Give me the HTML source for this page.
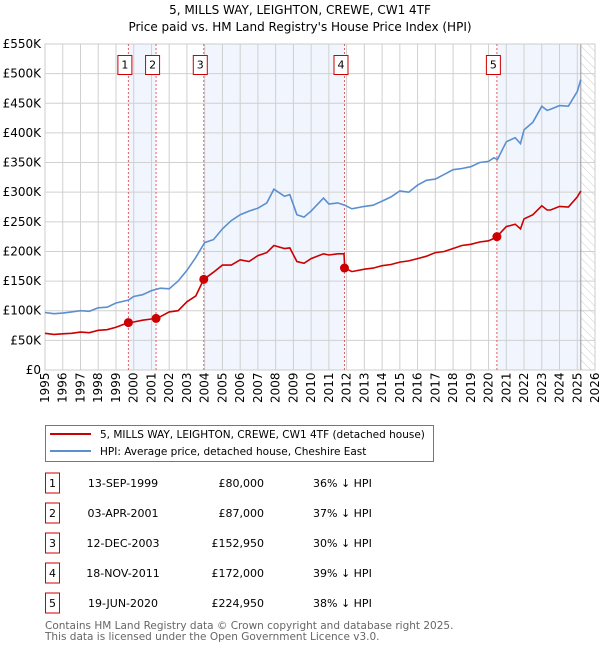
<!DOCTYPE html>
<html><head><meta charset="utf-8"><style>
body{margin:0;background:#fff;font-family:"DejaVu Sans","Liberation Sans",sans-serif;}
svg text{font-family:"DejaVu Sans","Liberation Sans",sans-serif;}
</style></head><body>
<svg id="chart" width="600" height="650" viewBox="0 0 600 650">
<defs><pattern id="hatch" width="6" height="6" patternUnits="userSpaceOnUse" patternTransform="rotate(-45)"><line x1="0" y1="0" x2="0" y2="6" stroke="#ccc" stroke-width="1"/></pattern></defs>
<text x="300" y="14" text-anchor="middle" font-size="12">5, MILLS WAY, LEIGHTON, CREWE, CW1 4TF</text>
<text x="300" y="31" text-anchor="middle" font-size="12">Price paid vs. HM Land Registry's House Price Index (HPI)</text>
<g id="plot"></g>
<g>
<rect x="45.5" y="425.5" width="388" height="36" fill="#fff" stroke="#777"/>
<line x1="50" y1="434" x2="91" y2="434" stroke="#cc0000" stroke-width="2"/>
<text x="100" y="438" font-size="10.5">5, MILLS WAY, LEIGHTON, CREWE, CW1 4TF (detached house)</text>
<line x1="50" y1="451" x2="91" y2="451" stroke="#5b8fd0" stroke-width="2"/>
<text x="100" y="455" font-size="10.5">HPI: Average price, detached house, Cheshire East</text>
</g>
<g id="table"></g>
<text x="45" y="629" font-size="10.5" fill="#666">Contains HM Land Registry data © Crown copyright and database right 2025.</text>
<text x="45" y="640" font-size="10.5" fill="#666">This data is licensed under the Open Government Licence v3.0.</text>
</svg>
<script>
const yTicks=[0,50,100,150,200,250,300,350,400,450,500,550];
const xYears=[1995,1996,1997,1998,1999,2000,2001,2002,2003,2004,2005,2006,2007,2008,2009,2010,2011,2012,2013,2014,2015,2016,2017,2018,2019,2020,2021,2022,2023,2024,2025,2026];
const hpiT=[1995,1995.5,1996,1996.5,1997,1997.5,1998,1998.5,1999,1999.7,2000,2000.5,2001,2001.5,2002,2002.5,2003,2003.5,2004,2004.5,2005,2005.5,2006,2006.5,2007,2007.5,2007.9,2008.5,2008.8,2009.2,2009.6,2010,2010.7,2011,2011.5,2011.9,2012.3,2013,2013.5,2014,2014.5,2015,2015.5,2016,2016.5,2017,2017.5,2018,2018.5,2019,2019.5,2020,2020.3,2020.5,2021,2021.5,2021.8,2022,2022.5,2023,2023.3,2023.5,2024,2024.5,2025,2025.2];
const hpiV=[97,95,96,98,100,99,105,106,113,118,124,127,134,138,137,150,168,190,215,220,238,252,262,268,273,282,305,293,296,262,258,268,290,280,282,278,272,276,278,285,292,302,300,312,320,322,330,338,340,343,350,352,358,355,385,392,382,405,418,445,438,440,446,445,470,490];
const redT=[1995,1995.5,1996,1996.5,1997,1997.5,1998,1998.5,1999,1999.7,2000,2000.5,2001,2001.25,2001.5,2002,2002.5,2003,2003.5,2003.95,2004.5,2005,2005.5,2006,2006.5,2007,2007.5,2007.9,2008.5,2008.8,2009.2,2009.6,2010,2010.7,2011,2011.5,2011.85,2011.9,2012.3,2013,2013.5,2014,2014.5,2015,2015.5,2016,2016.5,2017,2017.5,2018,2018.5,2019,2019.5,2020,2020.3,2020.47,2021,2021.5,2021.8,2022,2022.5,2023,2023.3,2023.5,2024,2024.5,2025,2025.2];
const redV=[62,60,61,62,64,63,67,68,72,80,81,84,86,87,90,98,100,115,125,153,165,177,177,186,183,193,198,210,205,206,183,180,188,196,194,196,196,172,166,170,172,176,178,182,184,188,192,198,200,205,210,212,216,218,222,225,242,246,238,255,262,277,270,270,276,275,292,302];
const saleT=[1999.7,2001.26,2003.95,2011.88,2020.47];
const saleV=[80,87,152.95,172,224.95];
const saleLabels=["1","2","3","4","5"];
const saleDates=["13-SEP-1999","03-APR-2001","12-DEC-2003","18-NOV-2011","19-JUN-2020"];
const salePrices=["£80,000","£87,000","£152,950","£172,000","£224,950"];
const salePct=["36% ↓ HPI","37% ↓ HPI","30% ↓ HPI","39% ↓ HPI","38% ↓ HPI"];
const dataEnd=2025.2;

const X0=45,X1=595,Y0=370,Y1=44;
const xs=t=>X0+(t-1995)/(2026-1995)*(X1-X0);
const ys=v=>Y0-v/550*(Y0-Y1);
const NS="http://www.w3.org/2000/svg";
const plot=document.getElementById('plot');
function mk(tag,attrs,parent){const e=document.createElementNS(NS,tag);for(const k in attrs)e.setAttribute(k,attrs[k]);(parent||plot).appendChild(e);return e;}
mk('rect',{x:X0,y:Y1,width:X1-X0,height:Y0-Y1,fill:'#fff'});
[[0,1],[2,3]].forEach(([a,b])=>{const r=mk('rect',{x:xs(saleT[a]),y:Y1,width:xs(saleT[b])-xs(saleT[a]),height:Y0-Y1,fill:'#f1f5fd'});

});
const b5=mk('rect',{x:xs(saleT[4]),y:Y1,width:xs(dataEnd)-xs(saleT[4]),height:Y0-Y1,fill:'#f1f5fd'});


const h=mk('rect',{x:xs(dataEnd),y:Y1,width:X1-xs(dataEnd),height:Y0-Y1,fill:'url(#hatch)'});


xYears.forEach(y=>{mk('line',{x1:xs(y),x2:xs(y),y1:Y1,y2:Y0,stroke:'#d0d0d0','stroke-width':1});
const t=mk('text',{transform:`translate(${xs(y)+4},${Y0+33}) rotate(-90)`,'font-size':12});t.textContent=y;

});
yTicks.forEach(v=>{mk('line',{x1:X0,x2:X1,y1:ys(v),y2:ys(v),stroke:'#d0d0d0','stroke-width':1});
const t=mk('text',{x:X0-4,y:ys(v)+4,'text-anchor':'end','font-size':12});t.textContent=v===0?'£0':'£'+v+'K';

});
mk('line',{x1:xs(dataEnd),x2:xs(dataEnd),y1:Y1,y2:Y0,stroke:'#999','stroke-width':1});
mk('rect',{x:X0,y:Y1,width:X1-X0,height:Y0-Y1,fill:'none',stroke:'#ccc'});
saleT.forEach((t,i)=>{const l=mk('line',{x1:xs(t),x2:xs(t),y1:Y1,y2:Y0,stroke:'#e06060','stroke-dasharray':'2,2','stroke-width':1});


const bx=mk('rect',{x:xs(t)-10.5,y:55.5,width:14,height:19,fill:'#fff',stroke:'#cc0000'});


const tx=mk('text',{x:xs(t)-3.5,y:68.5,'text-anchor':'middle','font-size':11});tx.textContent=saleLabels[i];});
const pth=(T,V)=>T.map((t,i)=>(i?'L':'M')+xs(t).toFixed(1)+','+ys(V[i]).toFixed(1)).join('');
const hp=mk('path',{d:pth(hpiT,hpiV),fill:'none',stroke:'#5b8fd0','stroke-width':1.6});


const rp=mk('path',{d:pth(redT,redV),fill:'none',stroke:'#cc0000','stroke-width':1.6});


saleT.forEach((t,i)=>{const c=mk('circle',{cx:xs(t),cy:ys(saleV[i]),r:4.5,fill:'#cc0000'});

});
const tb=document.getElementById('table');
const rowY=[483,513,543,573,603];
saleLabels.forEach((l,i)=>{const y=rowY[i];
const bx=mk('rect',{x:45.5,y:y-10,width:14,height:20,fill:'#fff',stroke:'#cc0000'},tb);


const a=mk('text',{x:52.5,y:y+4,'text-anchor':'middle','font-size':11},tb);a.textContent=l;
const d=mk('text',{x:123,y:y+4,'text-anchor':'middle','font-size':11},tb);d.textContent=saleDates[i];


const p=mk('text',{x:264,y:y+4,'text-anchor':'end','font-size':11},tb);p.textContent=salePrices[i];


const q=mk('text',{x:313,y:y+4,'font-size':11},tb);q.textContent=salePct[i];

});
</script>
</body></html>
